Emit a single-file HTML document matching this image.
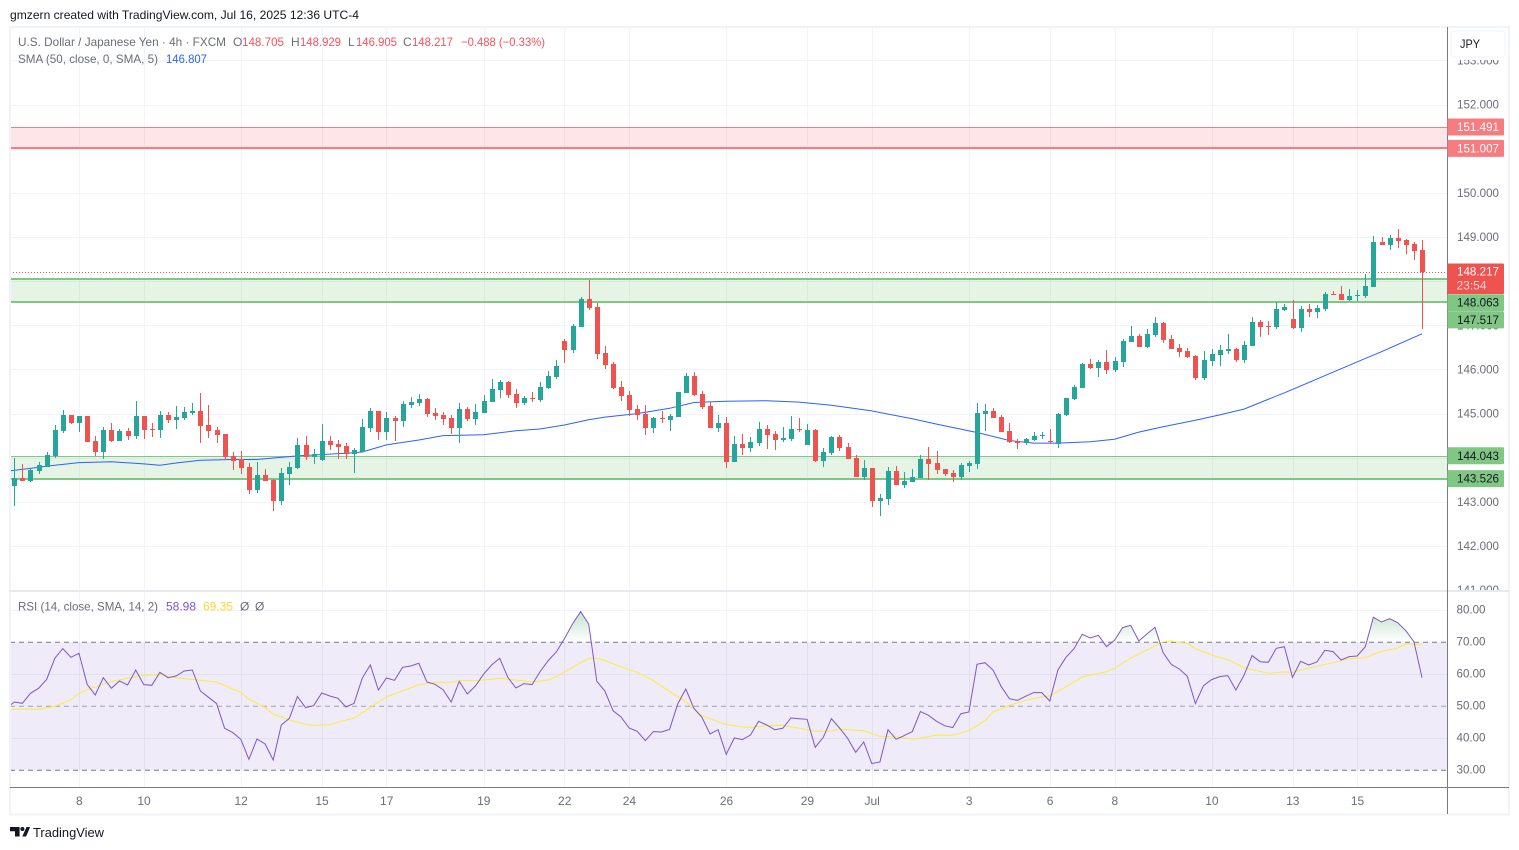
<!DOCTYPE html>
<html lang="en">
<head>
<meta charset="utf-8">
<title>USD/JPY 4h chart</title>
<style>
html,body{margin:0;padding:0;background:#fff;width:1519px;height:850px;overflow:hidden}
svg{display:block;font-family:"Liberation Sans",Arial,sans-serif}
text{font-size:12px}
</style>
</head>
<body>
<svg id="chart" xmlns="http://www.w3.org/2000/svg" width="1519" height="850" viewBox="0 0 1519 850">
  <defs>
    <clipPath id="priceClip"><rect x="10" y="27" width="1437" height="563"/></clipPath>
    <clipPath id="rsiClip"><rect x="10" y="592" width="1437" height="195"/></clipPath>
    <clipPath id="axisClip"><rect x="1448" y="60" width="60" height="530"/></clipPath>
    <clipPath id="overboughtClip"><rect x="10" y="592" width="1437" height="50.3"/></clipPath>
    <linearGradient id="obGrad" gradientUnits="userSpaceOnUse" x1="0" y1="611" x2="0" y2="642">
      <stop offset="0" stop-color="#2e9e4f" stop-opacity="0.30"/>
      <stop offset="1" stop-color="#2e9e4f" stop-opacity="0"/>
    </linearGradient>
  </defs>
  <rect x="0" y="0" width="1519" height="850" fill="#ffffff"/>
  <text x="10" y="19" fill="#131722" textLength="349" lengthAdjust="spacingAndGlyphs">gmzern created with TradingView.com, Jul 16, 2025 12:36 UTC-4</text>
  <g id="grid"></g>
  <g id="pricePane" clip-path="url(#priceClip)"></g>
  <g id="rsiPane" clip-path="url(#rsiClip)"></g>
  <g id="axes"></g>

  <rect x="10" y="27" width="1499" height="787.5" fill="none" stroke="#f0f3fa" stroke-width="2"/>
  <rect x="10" y="590" width="1499" height="2" fill="#e6e9f0"/>
  <rect x="10" y="787" width="1499" height="1" fill="#787b86"/>
  <rect x="1447" y="27" width="1" height="787" fill="#787b86"/>

  <g>
    <text x="18" y="46" fill="#6a6d78" textLength="208" lengthAdjust="spacingAndGlyphs">U.S. Dollar / Japanese Yen · 4h · FXCM</text>
    <text x="233" y="46" fill="#6a6d78">O</text>
    <text x="242" y="46" fill="#f7525f" textLength="42" lengthAdjust="spacingAndGlyphs">148.705</text>
    <text x="291" y="46" fill="#6a6d78">H</text>
    <text x="300" y="46" fill="#f7525f" textLength="41" lengthAdjust="spacingAndGlyphs">148.929</text>
    <text x="348" y="46" fill="#6a6d78">L</text>
    <text x="356" y="46" fill="#f7525f" textLength="41" lengthAdjust="spacingAndGlyphs">146.905</text>
    <text x="403" y="46" fill="#6a6d78">C</text>
    <text x="412" y="46" fill="#f7525f" textLength="41" lengthAdjust="spacingAndGlyphs">148.217</text>
    <text x="461" y="46" fill="#f7525f" textLength="84" lengthAdjust="spacingAndGlyphs">−0.488 (−0.33%)</text>
    <text x="18" y="63" fill="#6a6d78" textLength="140" lengthAdjust="spacingAndGlyphs">SMA (50, close, 0, SMA, 5)</text>
    <text x="166" y="63" fill="#2962ff" textLength="41" lengthAdjust="spacingAndGlyphs">146.807</text>
  </g>
  <g>
    <text x="18" y="610.5" fill="#6a6d78" textLength="140" lengthAdjust="spacingAndGlyphs">RSI (14, close, SMA, 14, 2)</text>
    <text x="166" y="610.5" fill="#7e57c2" textLength="30" lengthAdjust="spacingAndGlyphs">58.98</text>
    <text x="203" y="610.5" fill="#fdd835" textLength="30" lengthAdjust="spacingAndGlyphs">69.35</text>
    <text x="240" y="610.5" fill="#6a6d78">Ø</text>
    <text x="255" y="610.5" fill="#6a6d78">Ø</text>
  </g>

  <g id="priceLabels"></g>

  <rect x="1451" y="31" width="54" height="26" rx="4" fill="#ffffff" stroke="#f0f3fa" stroke-width="1"/>
  <text x="1460" y="48" fill="#131722" textLength="20" lengthAdjust="spacingAndGlyphs">JPY</text>

  <g>
    <path d="M10 827h9.6v9.5h-4.6v-5.2H10z" fill="#131722"/>
    <circle cx="22.4" cy="829" r="2" fill="#131722"/>
    <path d="M26.5 827h3.6l-4 9.5h-3.8z" fill="#131722"/>
    <text x="33" y="837" fill="#131722" style="font-size:13px" textLength="71" lengthAdjust="spacingAndGlyphs">TradingView</text>
  </g>
</svg>
<script>
const opens = [
143.36,143.53,143.47,143.70,143.80,144.04,144.60,144.97,144.79,144.94,
144.38,144.13,144.63,144.38,144.60,144.49,144.94,144.65,144.63,144.97,
144.85,144.90,145.01,145.06,144.74,144.63,144.54,144.04,143.97,143.79,
143.27,143.61,143.50,143.02,143.63,143.77,144.29,144.01,143.95,144.38,
144.31,144.26,144.08,144.13,144.67,145.06,144.58,144.90,144.83,145.19,
145.24,145.33,145.01,144.97,144.90,144.67,145.10,144.88,145.01,145.26,
145.53,145.71,145.44,145.24,145.35,145.31,145.58,145.83,146.64,146.44,
146.96,147.59,147.41,146.37,146.12,145.60,145.42,145.10,144.99,144.67,
144.90,144.85,144.92,145.46,145.85,145.44,145.17,144.67,144.78,143.90,
144.31,144.22,144.33,144.65,144.54,144.40,144.42,144.65,144.29,144.63,
143.92,144.11,144.47,144.24,143.99,143.56,143.77,143.02,143.06,143.70,
143.38,143.45,143.54,143.97,143.88,143.74,143.65,143.56,143.81,143.86,
144.99,145.06,144.92,144.60,144.38,144.33,144.40,144.51,144.38,144.31,
144.97,145.33,145.58,146.12,146.03,146.17,145.99,146.17,146.62,146.76,
146.51,146.78,147.05,146.69,146.48,146.42,146.30,145.81,146.19,146.33,
146.42,146.46,146.21,146.53,147.07,146.98,146.96,147.35,147.14,146.94,
147.37,147.30,147.37,147.71,147.71,147.57,147.66,147.66,147.87,148.89,
148.82,148.98,148.93,148.84,148.705];
const highs = [
143.99,143.86,143.74,143.90,144.13,144.74,145.08,144.97,144.94,144.94,
144.49,144.70,144.79,144.65,144.67,145.28,144.94,144.79,145.06,145.04,
145.17,145.15,145.24,145.47,145.19,144.70,144.54,144.13,144.15,143.88,
143.90,143.74,143.52,143.77,143.90,144.45,144.49,144.20,144.76,144.49,
144.40,144.33,144.22,144.88,145.12,145.06,145.03,144.94,145.28,145.37,
145.44,145.35,145.12,145.03,144.97,145.24,145.15,145.22,145.42,145.78,
145.76,145.74,145.56,145.40,145.49,145.71,145.96,146.21,146.69,147.03,
147.64,148.02,147.50,146.53,146.17,145.74,145.51,145.19,145.19,144.92,
145.06,144.99,145.49,145.92,145.94,145.51,145.26,144.97,144.92,144.49,
144.54,144.47,144.81,144.74,144.60,144.69,144.94,144.90,144.76,144.65,
144.22,144.49,144.51,144.33,144.06,143.95,143.77,143.18,143.79,143.81,
143.68,143.74,144.06,144.24,144.15,143.74,143.72,143.88,143.92,145.24,
145.22,145.13,144.97,144.79,144.42,144.45,144.58,144.58,144.65,145.01,
145.35,145.65,146.15,146.24,146.21,146.44,146.28,146.69,146.98,146.80,
146.92,147.19,147.07,146.78,146.58,146.48,146.33,146.42,146.46,146.55,
146.80,146.48,146.64,147.19,147.12,147.10,147.53,147.48,147.57,147.44,
147.48,147.46,147.75,147.77,147.89,147.82,147.80,148.16,149.02,149.00,
149.04,149.18,148.95,148.89,148.929];
const lows = [
142.91,143.47,143.45,143.63,143.78,143.99,144.56,144.76,144.58,144.36,
144.04,143.97,144.36,144.38,144.40,144.42,144.42,144.47,144.45,144.79,
144.65,144.85,144.97,144.33,144.45,144.33,143.95,143.72,143.63,143.18,
143.20,143.47,142.79,142.93,143.38,143.74,143.95,143.86,143.92,144.17,
143.97,143.97,143.65,144.13,144.58,144.40,144.40,144.38,144.69,145.12,
145.17,144.92,144.85,144.74,144.54,144.33,144.83,144.74,145.01,145.26,
145.35,145.35,145.12,145.19,145.26,145.26,145.56,145.78,146.14,146.37,
146.96,147.34,146.23,146.01,145.56,145.28,144.94,144.85,144.51,144.56,
144.78,144.60,144.92,145.46,145.40,145.10,144.67,144.58,143.77,143.90,
144.06,144.13,144.26,144.20,144.17,144.35,144.38,144.58,144.29,143.90,
143.79,144.06,144.15,143.97,143.56,143.49,142.88,142.68,142.93,143.38,
143.31,143.45,143.54,143.49,143.63,143.58,143.45,143.49,143.68,143.74,
144.60,144.90,144.58,144.33,144.20,144.29,144.38,144.42,144.31,144.22,
144.94,145.31,145.58,146.01,145.83,145.90,145.94,146.05,146.62,146.51,
146.48,146.73,146.60,146.46,146.28,146.26,145.76,145.76,146.08,146.08,
146.35,146.17,146.14,146.53,146.73,146.78,146.92,147.33,146.92,146.85,
147.19,147.16,147.33,147.68,147.57,147.55,147.55,147.62,147.87,148.82,
148.70,148.75,148.61,148.48,146.905];
const closes = [
143.53,143.47,143.72,143.83,144.06,144.63,144.97,144.79,144.94,144.36,
144.13,144.63,144.38,144.60,144.49,144.94,144.63,144.63,144.97,144.85,
144.92,145.04,145.06,144.72,144.60,144.51,144.02,143.93,143.77,143.27,
143.61,143.47,143.02,143.65,143.79,144.29,144.01,144.08,144.38,144.29,
144.24,144.08,144.17,144.69,145.06,144.58,144.90,144.83,145.22,145.26,
145.33,144.99,144.94,144.88,144.67,145.10,144.88,145.03,145.28,145.56,
145.71,145.42,145.24,145.35,145.34,145.60,145.85,146.08,146.44,146.98,
147.59,147.39,146.35,146.10,145.58,145.40,145.08,144.97,144.67,144.90,
144.88,144.94,145.49,145.85,145.42,145.15,144.67,144.78,143.90,144.31,
144.22,144.35,144.65,144.51,144.40,144.44,144.65,144.63,144.63,143.92,
144.13,144.47,144.22,143.97,143.56,143.77,143.02,143.09,143.70,143.38,
143.47,143.56,143.97,143.86,143.72,143.63,143.56,143.83,143.88,145.01,
145.06,144.90,144.58,144.36,144.33,144.42,144.49,144.52,144.36,144.99,
145.35,145.60,146.12,146.03,146.17,145.99,146.19,146.64,146.76,146.51,
146.80,147.05,146.67,146.46,146.39,146.28,145.81,146.21,146.35,146.44,
146.46,146.21,146.55,147.07,146.96,146.96,147.37,147.41,146.94,147.37,
147.30,147.39,147.71,147.68,147.57,147.66,147.68,147.89,148.89,148.82,
148.98,148.91,148.82,148.68,148.217];

const smaBars = [-1,5,8,12,16,18,20,23,27,30,35,42,43,46,50,53,58,62,65,68,71,73,77,81,84,88,93,97,101,106,111,114,119,123,126,129,133,136,139,142,146,149,152,157,161,167,169,174];
const smaValues = [143.69,143.83,143.89,143.91,143.86,143.83,143.88,143.94,143.96,143.96,144.04,144.11,144.13,144.29,144.40,144.50,144.52,144.61,144.65,144.74,144.86,144.92,145.00,145.12,145.25,145.28,145.29,145.26,145.19,145.06,144.88,144.76,144.57,144.39,144.33,144.33,144.36,144.42,144.58,144.70,144.85,144.97,145.10,145.47,145.78,146.25,146.40,146.807];

const rsiLeadValue = 49.4;
const rsiValues = [
51.35,50.93,54.06,55.62,58.43,65.00,68.02,65.31,66.56,56.87,
53.54,58.95,55.62,57.91,56.66,61.35,56.77,56.56,60.62,58.95,
59.47,61.04,61.35,54.79,52.81,50.83,43.12,41.77,39.68,33.43,
39.79,38.22,33.22,44.16,46.25,53.02,49.58,50.20,54.16,53.22,
52.50,49.79,50.93,58.75,62.91,55.10,58.85,58.12,62.18,62.60,
63.43,57.60,56.87,55.20,51.35,57.81,53.85,56.35,60.00,62.91,
65.00,59.06,55.72,57.08,56.77,60.83,64.27,66.97,71.14,75.72,
79.58,75.72,57.81,54.79,48.64,46.66,43.22,42.18,39.27,42.08,
41.97,42.81,50.72,55.41,49.37,46.56,41.35,42.70,35.00,40.10,
39.58,41.04,45.31,44.16,42.70,43.12,46.35,46.14,45.93,37.18,
40.31,46.14,43.22,40.00,35.62,38.85,32.08,32.60,42.70,39.68,
40.83,42.08,48.33,47.18,45.31,43.95,43.33,47.70,48.22,63.12,
63.64,61.25,56.14,52.39,51.87,53.12,54.27,54.27,51.66,61.35,
65.31,68.02,72.50,71.35,72.18,68.64,70.62,74.58,75.31,70.41,
72.60,74.68,66.77,63.12,61.66,59.37,50.83,56.45,58.33,59.27,
59.58,55.10,59.68,65.83,63.95,63.75,68.12,68.64,59.06,64.06,
62.91,63.85,67.50,67.08,64.47,65.52,65.72,68.64,77.81,76.35,
77.39,76.14,73.64,70.20,58.98];

const rsiMaBars = [-1,0,3,5,7,8,10,12,14,16,18,20,23,25,28,29,31,32,34,36,37,39,40,42,44,46,48,50,52,54,55,57,59,60,64,66,67,69,71,72,73,75,77,79,81,83,85,87,88,90,91,93,95,97,99,101,102,105,107,109,111,112,114,116,118,120,121,122,123,125,127,128,130,132,135,136,138,140,142,143,145,146,148,150,152,155,157,158,160,163,165,167,169,171,172,174];
const rsiMaValues = [48.43,49.06,49.06,50.00,51.97,54.06,56.14,57.70,58.75,59.68,59.89,58.95,58.12,57.60,54.37,52.18,49.68,47.60,45.72,44.37,44.06,44.27,45.00,46.35,49.68,52.91,54.89,56.66,57.50,57.50,58.12,58.02,58.43,58.75,57.60,58.22,59.27,62.18,65.00,65.00,64.27,62.39,60.62,58.02,54.58,51.45,47.08,45.20,44.37,43.54,43.43,43.95,44.06,43.12,42.18,42.18,42.91,42.39,40.62,40.41,39.79,40.00,41.04,40.93,42.39,45.52,48.33,49.16,50.31,51.87,52.91,53.22,56.14,59.16,60.83,61.87,65.10,67.60,70.20,70.41,69.68,68.02,66.04,64.58,62.08,60.31,60.72,60.62,61.97,63.64,64.89,65.20,67.18,68.22,69.47,69.35];

const priceTicks = [153,152,151,150,149,148,147,146,145,144,143,142,141];
const rsiGridTicks = [80,60,40];
const rsiAxisTicks = [80,70,60,50,40,30];
const rsiBands = [70,50,30];
const timeTickBars = [8,16,28,38,46,58,68,76,88,98,106,118,128,136,148,158,166];
const timeTickLabels = ["8","10","12","15","17","19","22","24","26","29","Jul","3","6","8","10","13","15"];

const redZone = [151.007,151.491];
const greenZoneUpper = [147.517,148.063];
const greenZoneLower = [143.526,144.043];
const lastPrice = 148.217;

const barX = i => 14.3 + 8.09 * i;
const yPrice = p => 104.5 + (152 - p) * 44.15;
const yRsi = v => 642.3 + (70 - v) * 3.2;

const NS = 'http://www.w3.org/2000/svg';
const pricePane = document.getElementById('pricePane');
const rsiPane = document.getElementById('rsiPane');
const gridG = document.getElementById('grid');
const axesG = document.getElementById('axes');
const labelsG = document.getElementById('priceLabels');
function mk(parent, tag, attrs, txt) {
  const el = document.createElementNS(NS, tag);
  for (const k in attrs) el.setAttribute(k, attrs[k]);
  if (txt !== undefined) el.textContent = txt;
  parent.appendChild(el);
  return el;
}
const crisp = { 'shape-rendering': 'crispEdges' };
const GRID = '#f0f3fa';

/* grid */
timeTickBars.forEach((b, i) => {
  const x = Math.round(barX(b));
  const el = mk(gridG, 'rect', { x: x, y: 28, width: 1, height: 759, fill: GRID, ...crisp });
  
  
  const t = mk(axesG, 'text', { x: barX(b) + 0.3, y: 805, fill: '#6a6d78', 'text-anchor': 'middle' }, timeTickLabels[i]);
  
  
});
priceTicks.forEach(p => {
  const y = Math.round(yPrice(p));
  const el = mk(pricePane, 'rect', { x: 10, y: y, width: 1437, height: 1, fill: GRID, ...crisp });
  
  
  const t = mk(axesG, 'text', { x: 1457, y: yPrice(p) + 4, fill: '#6a6d78', 'clip-path': 'url(#axisClip)', textLength: 42, lengthAdjust: 'spacingAndGlyphs' }, p.toFixed(3));
  
  
});
rsiGridTicks.forEach(v => {
  const el = mk(rsiPane, 'rect', { x: 10, y: Math.round(yRsi(v)), width: 1437, height: 1, fill: GRID, ...crisp });
  
  
});
rsiAxisTicks.forEach(v => {
  const t = mk(axesG, 'text', { x: 1456.5, y: yRsi(v) + 3.3, fill: '#6a6d78', textLength: 29, lengthAdjust: 'spacingAndGlyphs' }, v.toFixed(2));
  
  
});

/* zones */
function zone(parent, range, fill, stroke, topW, name) {
  const yTop = Math.round(yPrice(range[1])), yBot = Math.round(yPrice(range[0]));
  const r = mk(parent, 'rect', { x: 10, y: yTop, width: 1437, height: yBot - yTop, fill: fill, ...crisp });
  
  
  const a = mk(parent, 'rect', { x: 10, y: yTop, width: 1437, height: topW, fill: stroke, ...crisp });
  
  
  const b = mk(parent, 'rect', { x: 10, y: yBot - 1, width: 1437, height: 2, fill: stroke, ...crisp });
  
  
}
zone(pricePane, redZone, 'rgba(247,82,95,0.15)', '#f77c80', 1, 'resistance-zone');
zone(pricePane, greenZoneUpper, 'rgba(129,199,132,0.2)', '#81c784', 2, 'upper-support-zone');
zone(pricePane, greenZoneLower, 'rgba(129,199,132,0.2)', '#81c784', 1, 'lower-support-zone');

/* last price line */
const lastLine = mk(pricePane, 'line', { x1: 10, x2: 1447, y1: Math.round(yPrice(lastPrice)) + 0.5, y2: Math.round(yPrice(lastPrice)) + 0.5, stroke: '#ef5350', 'stroke-width': 1, 'stroke-dasharray': '1 2' });



/* SMA */
const smaLine = mk(pricePane, 'polyline', { fill: 'none', stroke: '#2962ff', 'stroke-width': 1, points: smaBars.map((b, i) => barX(b).toFixed(1) + ',' + yPrice(smaValues[i]).toFixed(1)).join(' ') });



/* candles */
opens.forEach((o, i) => {
  const c = closes[i], up = c >= o;
  const col = up ? '#26a69a' : '#ef5350';
  const cx = Math.round(barX(i));
  const g = mk(pricePane, 'g', { fill: col, ...crisp });
  
  
  const hy = Math.round(yPrice(highs[i])), ly = Math.round(yPrice(lows[i]));
  const w = mk(g, 'rect', { x: cx, y: hy, width: 1, height: Math.max(1, ly - hy) });
  
  
  const ty = Math.round(yPrice(Math.max(o, c))), by = Math.round(yPrice(Math.min(o, c)));
  const b = mk(g, 'rect', { x: cx - 2, y: ty, width: 5, height: Math.max(1, by - ty) });
  
  
});

/* RSI */
const band = mk(rsiPane, 'rect', { x: 10, y: yRsi(rsiBands[0]), width: 1437, height: yRsi(rsiBands[2]) - yRsi(rsiBands[0]), fill: 'rgba(126,87,194,0.12)' });


rsiBands.forEach((v, i) => {
  const l = mk(rsiPane, 'line', { x1: 10, x2: 1447, y1: yRsi(v), y2: yRsi(v), stroke: '#787b86', 'stroke-width': 1, 'stroke-dasharray': '5 4', opacity: v === 50 ? 0.65 : 1 });
  
  
});
const rsiPts = [[barX(-1), yRsi(rsiLeadValue)]].concat(rsiValues.map((v, i) => [barX(i), yRsi(v)]));
const rsiStr = rsiPts.map(p => p[0].toFixed(1) + ',' + p[1].toFixed(1)).join(' ');
const ob = mk(rsiPane, 'polygon', { fill: 'url(#obGrad)', 'clip-path': 'url(#overboughtClip)', points: barX(-1).toFixed(1) + ',' + yRsi(70).toFixed(1) + ' ' + rsiStr + ' ' + barX(rsiValues.length - 1).toFixed(1) + ',' + yRsi(70).toFixed(1) });


const maLine = mk(rsiPane, 'polyline', { fill: 'none', stroke: '#fdeb3b', 'stroke-width': 1, points: rsiMaBars.map((b, i) => barX(b).toFixed(1) + ',' + yRsi(rsiMaValues[i]).toFixed(1)).join(' ') });


const rsiLine = mk(rsiPane, 'polyline', { fill: 'none', stroke: '#7e57c2', 'stroke-width': 1, points: rsiStr });



/* price tags: overlapping tags stack below the last-price tag, so the tag offset is a layout nudge */
function tag(value, fill, color, name, nudge) {
  const y = yPrice(value) + nudge;
  const r = mk(labelsG, 'rect', { x: 1447.5, y: y - 8.5, width: 56.5, height: 17, rx: 1, fill: fill });
  
  
  const t = mk(labelsG, 'text', { x: 1457, y: y + 4, fill: color, 'font-weight': 400, textLength: 42, lengthAdjust: 'spacingAndGlyphs' }, value.toFixed(3));
  
  
}
tag(redZone[1], '#f77c80', '#ffffff', 'resistance-top', 0);
tag(redZone[0], '#f77c80', '#ffffff', 'resistance-bottom', 0);
tag(greenZoneUpper[1], '#81c784', '#131722', 'upper-zone-top', 24.4);
tag(greenZoneUpper[0], '#81c784', '#131722', 'upper-zone-bottom', 17.4);
tag(greenZoneLower[1], '#81c784', '#131722', 'lower-zone-top', 0);
tag(greenZoneLower[0], '#81c784', '#131722', 'lower-zone-bottom', 0);
const lastY = yPrice(lastPrice);
const lastTag = mk(labelsG, 'rect', { x: 1447.5, y: 263.5, width: 56.5, height: 30.5, rx: 1, fill: '#ef5350' });


const lastTxt = mk(labelsG, 'text', { x: 1457, y: lastY + 4, fill: '#ffffff', textLength: 42, lengthAdjust: 'spacingAndGlyphs' }, lastPrice.toFixed(3));


const cd = mk(labelsG, 'text', { x: 1456.5, y: 289.5, fill: '#fbd0d2', textLength: 30, lengthAdjust: 'spacingAndGlyphs' }, '23:54');


</script>
</body>
</html>
